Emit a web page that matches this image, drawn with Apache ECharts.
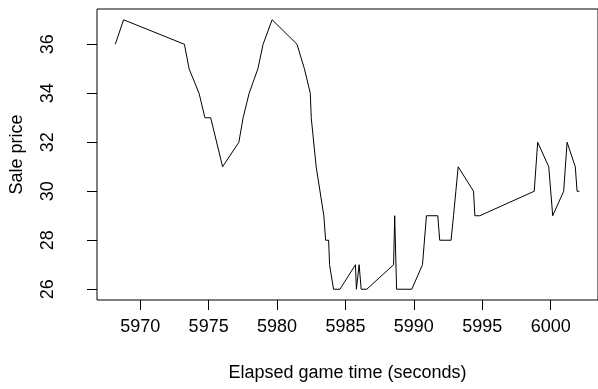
<!DOCTYPE html>
<html>
<head>
<meta charset="utf-8">
<script src="https://cdn.jsdelivr.net/npm/echarts@6/dist/echarts.min.js"></script>
<style>
html,body{margin:0;padding:0;background:#fff;}
#chart{width:598px;height:389px;}
</style>
</head>
<body>
<div id="chart"></div>
<script>
// Elapsed game time (seconds)
const times = [
  5968.18, 5968.78, 5973.23, 5973.57, 5974.3, 5974.73, 5975.15, 5976.02, 5977.21, 5977.52,
  5977.96, 5978.6, 5978.98, 5979.64, 5981.46, 5982.0, 5982.43, 5982.5, 5982.62, 5982.86,
  5983.42, 5983.55, 5983.77, 5983.84, 5984.13, 5984.6, 5985.73, 5985.8, 5986.0, 5986.15,
  5986.56, 5988.52, 5988.6, 5988.74, 5989.85, 5990.63, 5990.92, 5991.75, 5991.89, 5992.72,
  5992.9, 5993.07, 5993.24, 5994.36, 5994.46, 5994.82, 5998.8, 5999.05, 5999.86, 6000.15,
  6000.95, 6001.2, 6001.8, 6001.93, 6002.1
];
// Sale price
const prices = [
  36, 37, 36, 35, 34, 33, 33, 31, 32, 33,
  34, 35, 36, 37, 36, 35, 34, 33, 33, 31,
  29, 28, 28, 27, 26, 26, 27, 26, 27, 26,
  26, 27, 29, 26, 26, 27, 29, 29, 28, 28,
  29, 30, 31, 30, 29, 29, 30, 32, 31, 29,
  30, 32, 31, 30, 30
];
const xTicks = [5970, 5975, 5980, 5985, 5990, 5995, 6000];
const yTicks = [26, 28, 30, 32, 34, 36];

const chart = echarts.init(document.getElementById('chart'), null, {renderer: 'canvas'});
const font = 'Liberation Sans, Arial, Helvetica, sans-serif';
const xMin = 5966.84, xMax = 6003.46;
const yMin = 25.56, yMax = 37.44;

chart.setOption({
  animation: false,
  backgroundColor: '#ffffff',
  grid: {
    left: 96, top: 9, width: 503.5, height: 291,
    show: true, borderColor: '#000', borderWidth: 1, backgroundColor: 'transparent'
  },
  xAxis: {
    type: 'value', min: xMin, max: xMax,
    name: 'Elapsed game time (seconds)', nameLocation: 'middle', nameGap: 64,
    nameTextStyle: {fontFamily: font, fontSize: 18, color: '#000'},
    axisLine: {show: false},
    splitLine: {show: false},
    axisTick: {show: true, inside: false, length: 10, customValues: xTicks, lineStyle: {color: '#000', width: 1}},
    axisLabel: {show: true, customValues: xTicks, margin: 18, fontFamily: font, fontSize: 18, color: '#000',
      formatter: v => String(Math.round(v))}
  },
  yAxis: {
    type: 'value', min: yMin, max: yMax,
    name: 'Sale price', nameLocation: 'middle', nameGap: 71, nameRotate: 90,
    nameTextStyle: {fontFamily: font, fontSize: 18, color: '#000'},
    axisLine: {show: false},
    splitLine: {show: false},
    axisTick: {show: true, inside: false, length: 10, customValues: yTicks, lineStyle: {color: '#000', width: 1}},
    axisLabel: {show: true, customValues: yTicks, rotate: 90, margin: 40, fontFamily: font, fontSize: 18, color: '#000',
      formatter: v => String(Math.round(v))}
  },
  series: [{
    type: 'line',
    data: times.map((t, i) => [t, prices[i]]),
    showSymbol: false,
    symbol: 'none',
    lineStyle: {color: '#000', width: 1},
    silent: true
  }]
});
</script>
</body>
</html>
